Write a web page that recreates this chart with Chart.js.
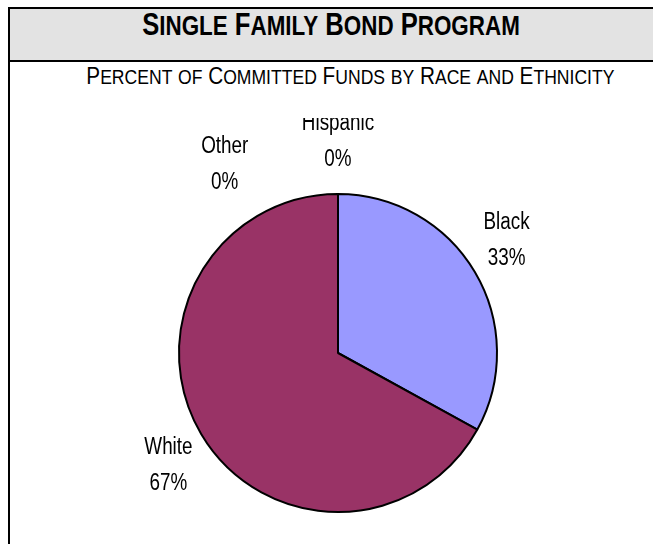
<!DOCTYPE html>
<html>
<head>
<meta charset="utf-8">
<script src="https://cdn.jsdelivr.net/npm/chart.js@4.4.0/dist/chart.umd.min.js"></script>
<style>
  html, body { margin: 0; padding: 0; background: #fff; }
  body { width: 653px; height: 544px; position: relative; overflow: hidden;
    font-family: "Liberation Sans Narrow", "Arial Narrow", "Liberation Sans", sans-serif; }
  .frame { position: absolute; left: 8px; top: 7px; width: 648px; height: 600px;
    border: 2px solid #000; box-sizing: border-box; }
  .header { height: 53px; background: #e3e3e3; border-bottom: 2px solid #000; box-sizing: border-box; }
  .title, .subtitle { position: absolute; text-align: center; white-space: nowrap; color: #000; }
  .title { left: 8px; width: 646px; top: 8px; line-height: 32px; font-weight: bold; }
  .subtitle { left: 0; width: 700px; top: 65px; line-height: 23px; }
  .title span.fit { display: inline-block; transform: scaleX(0.8); }
  .subtitle span.fit { display: inline-block; transform: scaleX(0.9); }
  canvas { position: absolute; left: 0; top: 0; }
</style>
</head>
<body>
<div class="frame"><div class="header"></div></div>
<div class="title"><span class="fit" id="title"></span></div>
<div class="subtitle"><span class="fit" id="subtitle"></span></div>
<canvas id="pie" width="653" height="544"></canvas>
<script>
const titleText = "Single Family Bond Program";
const subtitleText = "Percent of Committed Funds by Race and Ethnicity";

const categories = ["Black", "White", "Other", "Hispanic"];
const percents = [33, 67, 0, 0];
const sliceColors = ["#9999FF", "#993366", "#FFFFCC", "#CCFFFF"];

// no Arial Narrow in the sandbox, so squeeze Liberation Sans instead
const labelFont = '23px "Liberation Sans Narrow", "Arial Narrow", "Liberation Sans", sans-serif';
const narrow = 0.82;

// word-style small caps: capitals at full size, the rest uppercased a bit smaller
function smallCaps(el, text, big, small) {
  let html = "";
  for (const ch of text) {
    const isCap = ch === " " || ch !== ch.toLowerCase();
    html += `<span style="font-size:${isCap ? big : small}px">${ch.toUpperCase()}</span>`;
  }
  el.innerHTML = html;
}
smallCaps(document.getElementById("title"), titleText, 32, 28);
smallCaps(document.getElementById("subtitle"), subtitleText, 23, 19.5);

// Excel-like outside labels: the label box corner nearest the pie sits just off the rim
const outsideLabels = {
  id: "outsideLabels",
  afterDatasetsDraw(chart) {
    const ctx = chart.ctx;
    const meta = chart.getDatasetMeta(0);
    const data = chart.data.datasets[0].data;
    const total = data.reduce((a, b) => a + b, 0);
    const area = chart.chartArea;
    const lineGap = 36;

    ctx.save();
    ctx.beginPath();
    ctx.rect(0, area.top - 75, chart.width, chart.height);
    ctx.clip();
    ctx.font = labelFont;
    ctx.fillStyle = "#000";
    ctx.textAlign = "center";
    ctx.textBaseline = "middle";

    // zero slices all sit at 12 o'clock; push earlier ones counter-clockwise
    const zeroIdx = data.map((v, i) => (v === 0 ? i : -1)).filter(i => i >= 0);

    meta.data.forEach((arc, i) => {
      const { x, y, startAngle, endAngle, outerRadius } = arc.getProps(
        ["x", "y", "startAngle", "endAngle", "outerRadius"], true);
      let angle = (startAngle + endAngle) / 2;
      let gap = 10;
      if (data[i] === 0) {
        const k = zeroIdx.length - 1 - zeroIdx.indexOf(i);
        angle -= k * 29 * Math.PI / 180;
        gap = 26;
      }
      const pct = Math.round(data[i] / total * 100) + "%";
      const w = Math.max(ctx.measureText(categories[i]).width, ctx.measureText(pct).width) * narrow;
      const h = lineGap + 17;
      const dx = Math.cos(angle), dy = Math.sin(angle);
      const ax = x + dx * (outerRadius + gap);
      const ay = y + dy * (outerRadius + gap);
      const cx = ax + (Math.abs(dx) < 0.2 ? 0 : Math.sign(dx) * w / 2);
      const cy = ay + (Math.abs(dy) < 0.2 ? 0 : Math.sign(dy) * h / 2);
      [[categories[i], cy - lineGap / 2], [pct, cy + lineGap / 2]].forEach(([t, ty]) => {
        ctx.save();
        ctx.translate(cx, ty);
        ctx.scale(narrow, 1);
        ctx.fillText(t, 0, 0);
        ctx.restore();
      });
    });
    ctx.restore();
  }
};

new Chart(document.getElementById("pie"), {
  type: "pie",
  data: {
    labels: categories,
    datasets: [{
      data: percents,
      backgroundColor: sliceColors,
      borderColor: "#000",
      borderWidth: 2,
    }],
  },
  options: {
    responsive: false,
    animation: false,
    devicePixelRatio: 1,
    layout: { padding: { left: 178, right: 155, top: 193, bottom: 31 } },
    plugins: {
      legend: { display: false },
      tooltip: { enabled: false },
      title: { display: false },
    },
  },
  plugins: [outsideLabels],
});
</script>
</body>
</html>
